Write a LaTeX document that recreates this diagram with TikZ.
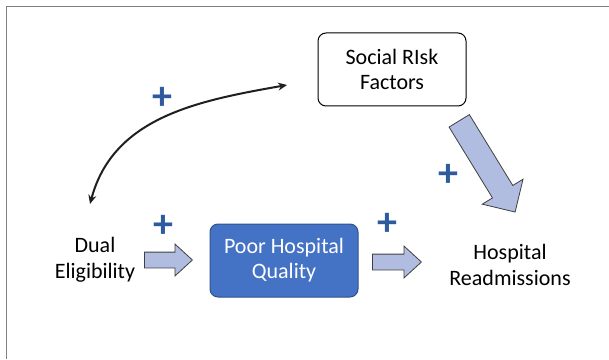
\documentclass[tikz,border=0pt]{standalone}
\usepackage{fontspec}
\setmainfont{Carlito}
\usepackage{xcolor}
\usepackage{tikz}
\usetikzlibrary{arrows.meta,shapes,positioning,calc}
\definecolor{hqblue}{RGB}{68,114,196}
\definecolor{hqedge}{RGB}{47,82,143}
\definecolor{hqarrow}{RGB}{176,188,224}
\definecolor{hqplus}{RGB}{46,90,160}
\definecolor{hqframe}{RGB}{128,128,128}

\begin{document}
\begin{tikzpicture}[
    x=1pt, y=1pt,
    factor/.style={rectangle, rounded corners=8pt, draw, line width=1pt, minimum width=148pt, minimum height=73pt, inner sep=0pt, align=center, font=\fontsize{22}{25}\selectfont},
    plaintext/.style={align=center, inner sep=0pt, font=\fontsize{22}{26}\selectfont},
    fatarrow/.style={single arrow, draw=black!75, fill=hqarrow, line width=0.8pt, inner sep=0pt, text height=15pt, text depth=0pt, single arrow head extend=8pt, minimum height=48pt, single arrow tip angle=85, anchor=tail},
    plussign/.style={text=hqplus, inner sep=0pt, font=\fontsize{40}{40}\selectfont\bfseries},
    link/.style={{Stealth[length=9pt,width=8pt]}-{Stealth[length=9pt,width=8pt]}, line width=2pt, draw=black!88}
]
    \useasboundingbox (0,0) rectangle (609,359);
    % Frame
    \draw[hqframe, line width=1.5pt] (6.5,0) -- (6.5,352.5) -- (609,352.5);

    % Factors
    \node[factor, fill=white] (social) at (392,289.5) {Social RIsk\\Factors};
    \node[factor, fill=hqblue, draw=hqedge, text=white] (poor) at (284,98.5) {Poor Hospital\\Quality};
    \node[plaintext] (dual) at (95,99) {Dual\\Eligibility};
    \node[plaintext] (readm) at (510,94) {Hospital\\Readmissions};

    % Block arrows
    \node[fatarrow] (dualpoor) at (144,99) {};
    \node[fatarrow, minimum height=49pt] (poorreadm) at (372,97) {};
    \node[fatarrow, text height=23pt, single arrow head extend=12pt, minimum height=107pt, single arrow tip angle=90, rotate=-58.5] (socialreadm) at (459,238.5) {};

    % Curved link
    \coordinate (linkdual) at (90,155);
    \coordinate (linksocial) at (287,274);
    \draw[link] (linkdual) to[out=75, in=190] (linksocial);

    % Signs
    \node[plussign] (plink) at (162,261) {+};
    \node[plussign] (pdual) at (163,133) {+};
    \node[plussign] (ppoor) at (387,135) {+};
    \node[plussign] (psocial) at (448,184) {+};
\end{tikzpicture}
\end{document}
